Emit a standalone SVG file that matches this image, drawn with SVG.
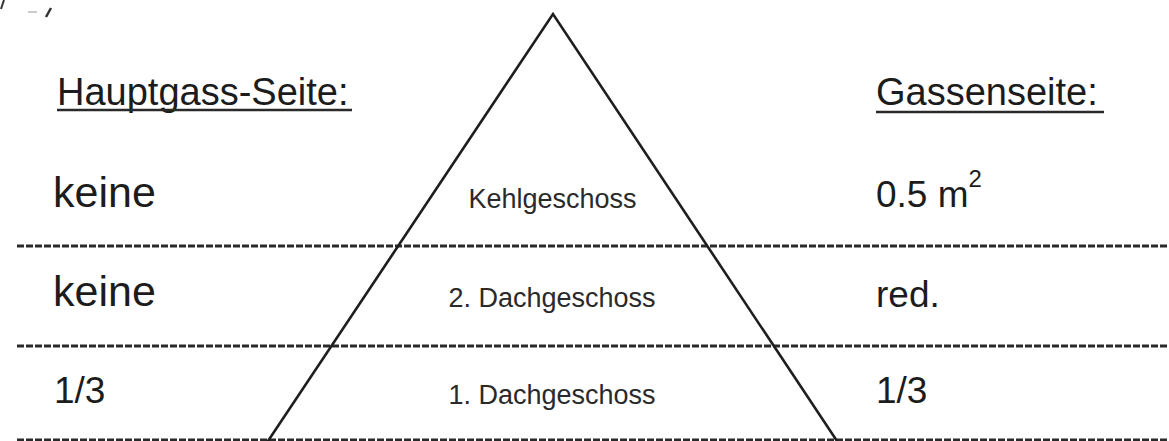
<svg xmlns="http://www.w3.org/2000/svg" width="1169" height="441" viewBox="0 0 1169 441">
<style>
.t{font-family:"Liberation Sans",Arial,sans-serif;fill:#1c1c1c}
.h{font-size:38px}
.v{font-size:37px}
.k{font-size:43px}
.c{font-size:27px;fill:#2a2a2a;text-anchor:middle}
.dash{stroke:#2a2a2a;stroke-width:3;stroke-dasharray:7 2;fill:none}
.ul{stroke:#2a2a2a;stroke-width:2.5}
.tri{stroke:#1e1e1e;stroke-width:2.6;fill:none;stroke-linejoin:miter}
</style>
<rect width="1169" height="441" fill="#fff"/>
<g id="marks" stroke="#333" stroke-width="2" fill="none">
<path d="M4 0 L1 9"/>
<path d="M28 12 L37 12" stroke="#bbb" stroke-width="1.5"/>
<path d="M51 8 L46 17" stroke-width="2.5"/>
</g>
<g id="connectors">
<line class="dash" x1="17" y1="246" x2="1169" y2="246"/>
<line class="dash" x1="17" y1="346" x2="1169" y2="346"/>
<line class="dash" x1="17" y1="440" x2="1169" y2="440"/>
</g>
<g id="triangle">
<polyline class="tri" points="262,450 553,14 843,450"/>
</g>
<g id="header-left">
<text class="t h" x="57" y="105">Hauptgass-Seite:</text>
<line class="ul" x1="57" y1="110" x2="352" y2="110"/>
</g>
<g id="header-right">
<text class="t h" x="876" y="105">Gassenseite:</text>
<line class="ul" x1="876" y1="112" x2="1104" y2="112"/>
</g>
<g id="row1">
<text class="t k" x="53" y="207">keine</text>
<text class="t c" x="552.5" y="208">Kehlgeschoss</text>
<text class="t v" x="876" y="207">0.5 m<tspan font-size="24" dy="-20">2</tspan></text>
</g>
<g id="row2">
<text class="t k" x="53" y="306">keine</text>
<text class="t c" x="552" y="307">2. Dachgeschoss</text>
<text class="t v" x="876" y="307">red.</text>
</g>
<g id="row3">
<text class="t v" x="54" y="403">1/3</text>
<text class="t c" x="552" y="404">1. Dachgeschoss</text>
<text class="t v" x="876" y="403">1/3</text>
</g>
</svg>
